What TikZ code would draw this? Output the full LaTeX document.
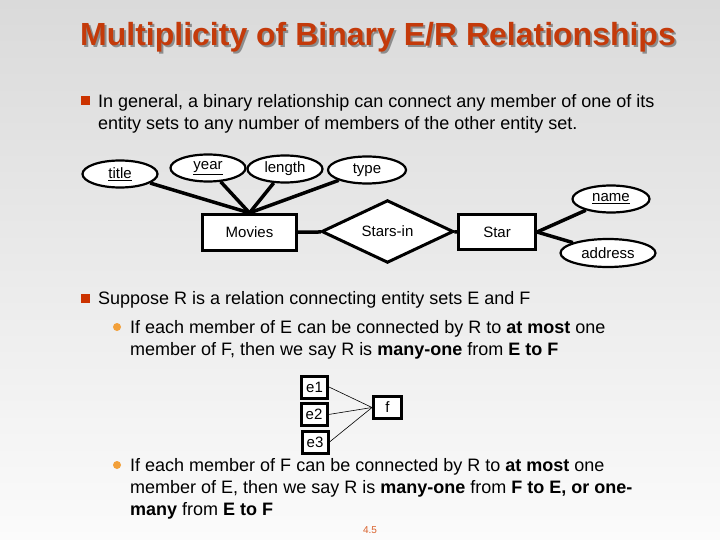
\documentclass[tikz,border=0pt]{standalone}
\usepackage{fontspec}
\setmainfont{Liberation Sans}
\usetikzlibrary{shapes.geometric}
\definecolor{titlered}{HTML}{C43A0A}
\definecolor{shadowgray}{HTML}{8C8C8C}
\definecolor{bulletred}{HTML}{CC3300}
\definecolor{bulletorange}{HTML}{F2A03A}
\definecolor{pagenumcol}{HTML}{D9602A}
\definecolor{bgtop}{HTML}{DADADA}
\definecolor{bgbottom}{HTML}{FBFBFB}
\begin{document}
\begin{tikzpicture}[x=1pt, y=-1pt,
    attr/.style={ellipse, draw, fill=white, line width=2.2pt, minimum width=75pt, minimum height=27pt, inner sep=0pt, font=\fontsize{15}{17}\selectfont},
    entity/.style={rectangle, draw, fill=white, line width=3.2pt, minimum width=94pt, minimum height=36pt, inner sep=0pt, font=\fontsize{15}{17}\selectfont},
    rel/.style={diamond, draw, fill=white, line width=3pt, minimum width=132pt, minimum height=58pt, inner sep=0pt, font=\fontsize{15}{17}\selectfont},
    link/.style={line width=3.5pt},
    elem/.style={rectangle, draw, fill=white, line width=3pt, minimum width=26pt, minimum height=22pt, inner sep=0pt, font=\fontsize{15}{17}\selectfont},
    map/.style={line width=0.6pt},
    txt/.style={anchor=base west, align=left, inner sep=0pt, font=\fontsize{18}{22}\selectfont},
    sqbullet/.style={rectangle, fill=bulletred, minimum size=9pt, inner sep=0pt},
    dotbullet/.style={circle, fill=bulletorange, minimum size=8pt, inner sep=0pt}
]
    % Hintergrund
    \shade[top color=bgtop, bottom color=bgbottom] (0,0) rectangle (720,540);
    \useasboundingbox (0,0) rectangle (720,540);

    % Titel
    \node[font=\fontsize{32}{35}\selectfont\bfseries, text=shadowgray] (titleshadow) at (380,39) {Multiplicity of Binary E/R Relationships};
    \node[font=\fontsize{32}{35}\selectfont\bfseries, text=titlered] (slidetitle) at (378,37) {Multiplicity of Binary E/R Relationships};

    % Text (base = letzte Zeile)
    \node[sqbullet] (sq1) at (85.5,101) {};
    \node[txt] (intro) at (98,129.5) {In general, a binary relationship can connect any member of one of its\\entity sets to any number of members of the other entity set.};
    \node[sqbullet] (sq2) at (85.5,298) {};
    \node[txt] (suppose) at (98,304.5) {Suppose R is a relation connecting entity sets E and F};
    \node[dotbullet] (dot1) at (117,327) {};
    \node[txt] (manyone) at (130,355.5) {If each member of E can be connected by R to \textbf{at most} one\\member of F, then we say R is \textbf{many-one} from \textbf{E to F}};
    \node[dotbullet] (dot2) at (117,465) {};
    \node[txt] (onemany) at (130,515.5) {If each member of F can be connected by R to \textbf{at most} one\\member of E, then we say R is \textbf{many-one} from \textbf{F to E, or one-}\\\textbf{many} from \textbf{E to F}};

    % ER-Diagramm
    \node[attr] (title) at (120,174) {\underline{title}};
    \node[attr] (year) at (208,168) {\underline{year}};
    \node[attr] (length) at (285,169) {length};
    \node[attr, minimum width=78pt] (type) at (367,170) {type};
    \node[entity] (movies) at (249.5,232.5) {Movies};
    \node[rel] (starsin) at (387.5,231.5) {Stars-in};
    \node[entity, minimum width=77pt, minimum height=35pt] (star) at (497,232) {Star};
    \node[attr, minimum width=77pt] (name) at (611,199) {\underline{name}};
    \node[attr, minimum width=95pt, minimum height=28pt] (address) at (608,253) {address};

    \draw[link] (movies.north) -- (title);
    \draw[link] (movies.north) -- (year);
    \draw[link] (movies.north) -- (length);
    \draw[link] (movies.north) -- (type);
    \draw[link] (movies) -- (starsin);
    \draw[link] (starsin) -- (star);
    \draw[link] (star.east) -- (name);
    \draw[link] (star.east) -- (address);

    % e -> f
    \node[elem] (e1) at (314.5,387) {e1};
    \node[elem] (e2) at (314,414.5) {e2};
    \node[elem] (e3) at (315,442) {e3};
    \node[elem, minimum width=28pt] (f) at (387.5,407.5) {f};
    \draw[map] (e1.east) -- (f.west);
    \draw[map] (e2.east) -- (f.west);
    \draw[map] (e3.east) -- (f.west);

    % Seitenzahl
    \node[font=\fontsize{10}{12}\selectfont, text=pagenumcol] (pagenum) at (370,530) {4.5};
\end{tikzpicture}
\end{document}
